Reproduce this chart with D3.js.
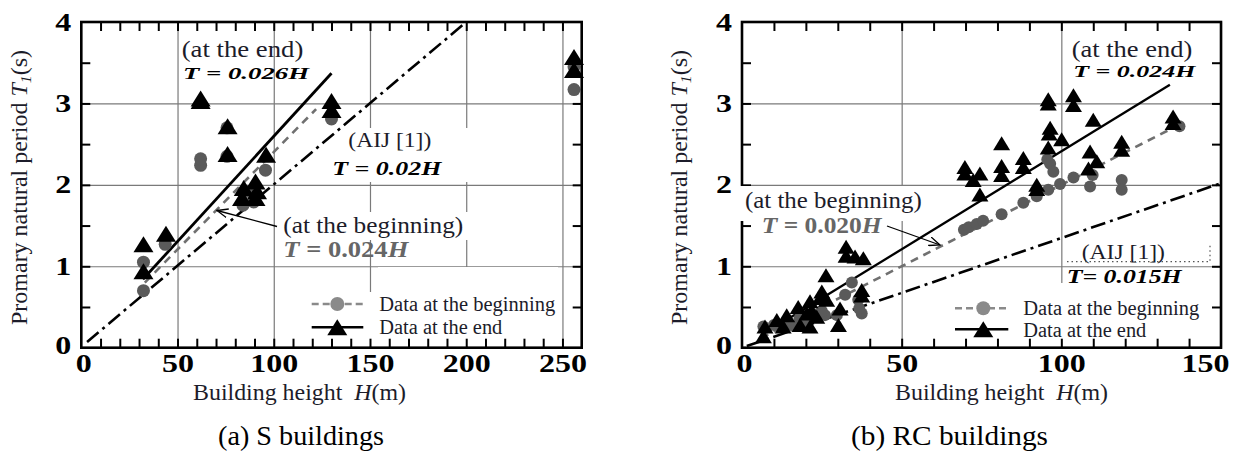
<!DOCTYPE html>
<html>
<head>
<meta charset="utf-8">
<script src="https://cdn.jsdelivr.net/npm/d3@7"></script>
<style>
  body { margin: 0; background: #fff; }
  svg { display: block; }
</style>
</head>
<body>
<svg id="chart" width="1238" height="464"></svg>
<script>
// ---- data: [H (m), T (s)] ----

// (a) S buildings
const sBegin = [
  [32.3, 1.05], [32.3, 0.70], [43.6, 1.27], [62, 2.24], [62, 2.32],
  [75.7, 2.35], [75.7, 2.70], [95.7, 2.18], [84, 1.75], [89.6, 1.79],
  [86, 1.92], [130, 2.81], [256, 3.17], [256, 3.45]
];
const sEnd = [
  [32.3, 1.27], [32.3, 0.94], [44, 1.40], [62, 3.03], [62, 3.06],
  [76, 2.72], [76, 2.38], [96, 2.37], [84.4, 1.96], [90.5, 2.04],
  [91.3, 1.92], [83.5, 1.84], [90.5, 1.84], [130, 3.03], [130, 2.92],
  [256, 3.57], [256, 3.41]
];

// (b) RC buildings
const rcBegin = [
  [95.6, 2.31], [96.5, 2.26], [97.5, 2.16], [103.8, 2.09], [99.6, 2.01],
  [109.8, 2.12], [109, 1.98], [118.9, 2.06], [118.9, 1.94], [95.9, 1.94],
  [92.3, 1.86], [88.1, 1.78], [81.3, 1.64], [137, 2.72], [69.5, 1.45],
  [71, 1.48], [73.5, 1.52], [75.5, 1.56],
  [34.4, 0.80], [32.3, 0.65], [36.4, 0.59], [37.5, 0.42], [36.7, 0.48],
  [29.7, 0.40], [26, 0.40], [6.7, 0.26], [10, 0.28], [14, 0.32],
  [18, 0.36], [20, 0.30], [22, 0.40], [25, 0.45], [16, 0.27]
];
const rcEnd = [
  [95.9, 3.05], [95.9, 3.00], [103.8, 3.10], [103.8, 2.98], [110, 2.80],
  [135, 2.84], [135, 2.76], [96.5, 2.70], [96.2, 2.63], [100.1, 2.56],
  [81.3, 2.51], [95.9, 2.46], [118.9, 2.53], [118.9, 2.43], [109, 2.41],
  [111.1, 2.29], [108.5, 2.20], [88.1, 2.33], [88.1, 2.22], [81.3, 2.23],
  [81.3, 2.12], [69.8, 2.22], [69.8, 2.14], [74.5, 2.14], [72.4, 2.06],
  [74.5, 1.88], [92.3, 2.00], [92.3, 1.95],
  [32.6, 1.24], [32.6, 1.13], [35.4, 1.12], [38, 1.10], [26.3, 0.89],
  [37.5, 0.71], [37.5, 0.64], [25, 0.69], [24.4, 0.61], [30.7, 0.48],
  [30.2, 0.28], [21.3, 0.57], [17.6, 0.50], [14, 0.40], [10.9, 0.34],
  [7.2, 0.26], [6.7, 0.14], [18.2, 0.28], [21.3, 0.26], [23.4, 0.38],
  [20.3, 0.42], [26.5, 0.59], [12.9, 0.26], [21.8, 0.46]
];

// fitted / code lines, end points
const sEndLine = [[32, 0.84], [130, 3.37]];
const sBeginLine = [[33, 0.80], [122, 2.93]];
const sAijLine = [[3, 0.07], [200, 4.0]];
const rcEndLine = [[6, 0.15], [134, 3.23]];
const rcBeginLine = [[6, 0.12], [136, 2.72]];
const rcAijLine = [[1.5, 0.02], [150, 2.02]];

const xTicksS = [0, 50, 100, 150, 200, 250];
const xTicksRC = [0, 50, 100, 150];
const yTicks = [0, 1, 2, 3, 4];

const SERIF = "'Liberation Serif', Tinos, 'Times New Roman', Times, 'DejaVu Serif', serif";
const svg = d3.select("#chart").attr("font-family", SERIF);
const GRAY_PT = "#5a5a5a";
const GRAY_TXT = "#666";
const INK = "#1c1c2a";

svg.append("defs").append("marker")
  .attr("id", "arrow")
  .attr("viewBox", "0 0 12 10")
  .attr("refX", 11).attr("refY", 5)
  .attr("markerWidth", 12).attr("markerHeight", 10)
  .attr("markerUnits", "userSpaceOnUse")
  .attr("orient", "auto")
  .append("path")
  .attr("d", "M0,0.5 L11,5 L0,9.5")
  .attr("fill", "none").attr("stroke", "#000").attr("stroke-width", 1.3);

function label(g, a) {
  const t = g.append("text")
    .attr("x", a.x).attr("y", a.y)
    .attr("font-size", a.size)
    .attr("fill", a.color || INK)
    .attr("textLength", a.len)
    .attr("lengthAdjust", "spacingAndGlyphs");
  a.parts.forEach(p => {
    t.append("tspan")
      .attr("font-style", p.it ? "italic" : "normal")
      .attr("font-weight", p.b ? "bold" : "normal")
      .text(p.t);
  });
}

function drawPanel(p) {
  const x = d3.scaleLinear().domain([0, p.xMax]).range([p.x0, p.x1]);
  const y = d3.scaleLinear().domain([0, 4]).range([347.7, 22]);
  const top = y(4), bot = y(0), w = p.x1 - p.x0, h = bot - top;
  const g = svg.append("g");

  // grid lines
  const gridStyle = s => {
    s.select(".domain").remove();
    s.selectAll("line").attr("stroke", "#7a7a7a").attr("stroke-width", 1.2);
  };
  g.append("g").attr("transform", `translate(0,${bot})`)
    .call(d3.axisBottom(x).tickValues(p.xTicks.slice(1)).tickSize(-h).tickFormat(""))
    .call(gridStyle);
  g.append("g").attr("transform", `translate(${p.x0},0)`)
    .call(d3.axisLeft(y).tickValues([1, 2, 3]).tickSize(-w).tickFormat(""))
    .call(gridStyle);

  // white boxes behind labels
  const box = b => g.append("rect")
    .attr("x", b[0]).attr("y", b[1])
    .attr("width", b[2] - b[0]).attr("height", b[3] - b[1])
    .attr("fill", "#fff");
  p.boxes.forEach(box);

  // lines
  const line = d3.line().x(d => x(d[0])).y(d => y(d[1]));
  g.append("path").datum(p.aij).attr("d", line)
    .attr("fill", "none").attr("stroke", "#000").attr("stroke-width", 2.6)
    .attr("stroke-dasharray", "15,5,3,5");
  g.append("path").datum(p.beginLine).attr("d", line)
    .attr("fill", "none").attr("stroke", "#707070").attr("stroke-width", 2.6)
    .attr("stroke-dasharray", "8,6");
  g.append("path").datum(p.endLine).attr("d", line)
    .attr("fill", "none").attr("stroke", "#000").attr("stroke-width", p.lw);

  // markers
  g.append("g").selectAll("circle").data(p.begin).join("circle")
    .attr("cx", d => x(d[0])).attr("cy", d => y(d[1]))
    .attr("r", p.r).attr("fill", GRAY_PT);
  const tw = p.tw, th = p.th;
  const tri = `M0,${-th / 2}L${tw / 2},${th / 2}L${-tw / 2},${th / 2}Z`;
  g.append("g").selectAll("path").data(p.end).join("path")
    .attr("transform", d => `translate(${x(d[0])},${y(d[1])})`)
    .attr("d", tri).attr("fill", "#000");

  // inward minor ticks and frame
  const minorX = d3.range(10, p.xMax, 10);
  const minorY = d3.range(0.5, 4, 0.5);
  const tickStyle = s => {
    s.select(".domain").remove();
    s.selectAll("line").attr("stroke", "#000").attr("stroke-width", 2);
  };
  g.append("g").attr("transform", `translate(0,${bot})`)
    .call(d3.axisBottom(x).tickValues(minorX).tickSize(-9).tickFormat("")).call(tickStyle);
  g.append("g").attr("transform", `translate(0,${top})`)
    .call(d3.axisTop(x).tickValues(minorX).tickSize(-9).tickFormat("")).call(tickStyle);
  g.append("g").attr("transform", `translate(${p.x0},0)`)
    .call(d3.axisLeft(y).tickValues(minorY).tickSize(-9).tickFormat("")).call(tickStyle);
  g.append("g").attr("transform", `translate(${p.x1},0)`)
    .call(d3.axisRight(y).tickValues(minorY).tickSize(-9).tickFormat("")).call(tickStyle);
  g.append("rect")
    .attr("x", p.x0).attr("y", top).attr("width", w).attr("height", h)
    .attr("fill", "none").attr("stroke", "#000").attr("stroke-width", 2.6);

  (p.topBoxes || []).forEach(box);

  // tick labels
  g.append("g").attr("transform", `translate(0,${bot})`)
    .call(d3.axisBottom(x).tickValues(p.xTicks).tickSize(0).tickPadding(7).tickFormat(d3.format("d")))
    .call(s => s.select(".domain").remove())
    .selectAll("text")
    .attr("font-size", 25).attr("font-weight", "bold").attr("fill", "#000")
    .attr("dx", d => (d === p.xMax ? -16 : d === 0 ? 2 : 0))
    .attr("textLength", d => String(d).length * 16)
    .attr("lengthAdjust", "spacingAndGlyphs");
  g.append("g").attr("transform", `translate(${p.x0},0)`)
    .call(d3.axisLeft(y).tickValues(yTicks).tickSize(0).tickPadding(10).tickFormat(d3.format("d")))
    .call(s => s.select(".domain").remove())
    .selectAll("text")
    .attr("font-size", 25).attr("font-weight", "bold").attr("fill", "#000")
    .attr("dy", d => (d === 0 ? "0.22em" : "0.32em"))
    .attr("textLength", 16).attr("lengthAdjust", "spacingAndGlyphs");

  // axis titles
  const xt = g.append("text")
    .attr("x", p.xTitleX).attr("y", 400)
    .attr("font-size", 24).attr("fill", INK)
    .attr("textLength", 213).attr("lengthAdjust", "spacingAndGlyphs");
  xt.append("tspan").text("Building height");
  xt.append("tspan").attr("dx", 12).attr("font-style", "italic").text("H");
  xt.append("tspan").text("(m)");

  const yt = g.append("text")
    .attr("transform", `translate(${p.yTitleX},187.5) rotate(-90)`)
    .attr("text-anchor", "middle")
    .attr("font-size", 23).attr("fill", INK)
    .attr("textLength", 275).attr("lengthAdjust", "spacingAndGlyphs");
  yt.append("tspan").text("Promary natural period ");
  yt.append("tspan").attr("font-style", "italic").text("T");
  yt.append("tspan").attr("font-style", "italic").attr("font-size", 15).attr("dy", 4).text("1");
  yt.append("tspan").attr("dy", -4).text("(s)");

  // annotations
  p.labels.forEach(a => label(g, a));
  g.append("line")
    .attr("x1", p.arrow[0]).attr("y1", p.arrow[1])
    .attr("x2", p.arrow[2]).attr("y2", p.arrow[3])
    .attr("stroke", "#000").attr("stroke-width", 1.3)
    .attr("marker-end", "url(#arrow)");
  if (p.dotted) {
    g.append("path").attr("d", p.dotted)
      .attr("fill", "none").attr("stroke", "#555").attr("stroke-width", 1.2)
      .attr("stroke-dasharray", "1.5,3");
  }

  // legend
  const L = p.legend;
  g.append("line").attr("x1", L.x1).attr("x2", L.x2).attr("y1", L.y1).attr("y2", L.y1)
    .attr("stroke", "#8a8a8a").attr("stroke-width", 2.5).attr("stroke-dasharray", "7,4");
  g.append("circle").attr("cx", L.cx).attr("cy", L.y1).attr("r", 7).attr("fill", "#8a8a8a");
  g.append("line").attr("x1", L.x1).attr("x2", L.x2).attr("y1", L.y2).attr("y2", L.y2)
    .attr("stroke", "#000").attr("stroke-width", 2.5);
  g.append("path").attr("transform", `translate(${L.cx},${L.y2})`)
    .attr("d", `M0,-8L10,8L-10,8Z`).attr("fill", "#000");
  [["Data at the beginning", L.t1, 176], ["Data at the end", L.t2, 123]].forEach(([s, yy, len]) => {
    g.append("text").attr("x", L.tx).attr("y", yy)
      .attr("font-size", 20).attr("fill", INK)
      .attr("textLength", len).attr("lengthAdjust", "spacingAndGlyphs")
      .text(s);
  });

  // caption
  g.append("text").attr("x", p.cap.x).attr("y", 445)
    .attr("font-size", 27).attr("fill", "#000")
    .attr("textLength", p.cap.len).attr("lengthAdjust", "spacingAndGlyphs")
    .text(p.cap.text);
}

drawPanel({
  xMax: 260, x0: 81.3, x1: 581.7, xTicks: xTicksS,
  begin: sBegin, end: sEnd,
  beginLine: sBeginLine, endLine: sEndLine, aij: sAijLine,
  r: 6.5, tw: 20, th: 16, lw: 2.8,
  boxes: [[352, 128, 470, 182], [280, 212, 470, 240], [303, 292, 558, 346], [378, 267, 558, 292]],
  xTitleX: 193, yTitleX: 27,
  labels: [
    { x: 181.7, y: 56.7, size: 24, len: 121.6, parts: [{ t: "(at the end)" }] },
    { x: 183, y: 79, size: 17, len: 126, color: "#000",
      parts: [{ t: "T = 0.026H", it: 1, b: 1 }] },
    { x: 348.3, y: 146.7, size: 21, len: 83, parts: [{ t: "(AIJ [1])" }] },
    { x: 332.3, y: 175, size: 18, len: 109, color: "#000",
      parts: [{ t: "T = 0.02H", it: 1, b: 1 }] },
    { x: 283.3, y: 233, size: 23, len: 180, parts: [{ t: "(at the beginning)" }] },
    { x: 283.3, y: 256.5, size: 24, len: 125, color: GRAY_TXT,
      parts: [{ t: "T", it: 1, b: 1 }, { t: " = 0.024", b: 1 }, { t: "H", it: 1, b: 1 }] }
  ],
  arrow: [277, 226.5, 217, 210.5],
  legend: { x1: 311.7, x2: 363.3, cx: 337.3, y1: 304, y2: 327.3, tx: 379.3, t1: 310.7, t2: 334 },
  cap: { x: 218, len: 166, text: "(a) S buildings" }
});

drawPanel({
  xMax: 150, x0: 742, x1: 1221, xTicks: xTicksRC,
  begin: rcBegin, end: rcEnd,
  beginLine: rcBeginLine, endLine: rcEndLine, aij: rcAijLine,
  r: 6, tw: 17, th: 14, lw: 2.3,
  boxes: [[950, 283, 1216, 346]],
  topBoxes: [[739.5, 186, 922, 221]],
  xTitleX: 895, yTitleX: 687,
  labels: [
    { x: 1071.7, y: 56.7, size: 24, len: 120.6, parts: [{ t: "(at the end)" }] },
    { x: 1073.3, y: 77.3, size: 17, len: 122, color: "#000",
      parts: [{ t: "T = 0.024H", it: 1, b: 1 }] },
    { x: 745, y: 208.3, size: 23, len: 176.7, parts: [{ t: "(at the beginning)" }] },
    { x: 761.7, y: 233, size: 24, len: 120, color: GRAY_TXT,
      parts: [{ t: "T", it: 1, b: 1 }, { t: " = 0.020", b: 1 }, { t: "H", it: 1, b: 1 }] },
    { x: 1081.7, y: 259.3, size: 21, len: 83.3, parts: [{ t: "(AIJ [1])" }] },
    { x: 1066.7, y: 283.3, size: 19, len: 115, color: "#000",
      parts: [{ t: "T= 0.015H", it: 1, b: 1 }] }
  ],
  arrow: [887, 226, 940, 245],
  dotted: "M1067,261.7 L1210,261.7 L1210,244",
  legend: { x1: 955, x2: 1008.3, cx: 983.3, y1: 308.3, y2: 329.3, tx: 1023.3, t1: 315, t2: 336.7 },
  cap: { x: 851, len: 197, text: "(b) RC buildings" }
});

// force the serif family on every text (axis groups set sans-serif)
svg.selectAll("g").filter(function () { return this.hasAttribute("font-family"); })
  .attr("font-family", SERIF);
svg.selectAll("text").attr("font-family", SERIF);
</script>
</body>
</html>
